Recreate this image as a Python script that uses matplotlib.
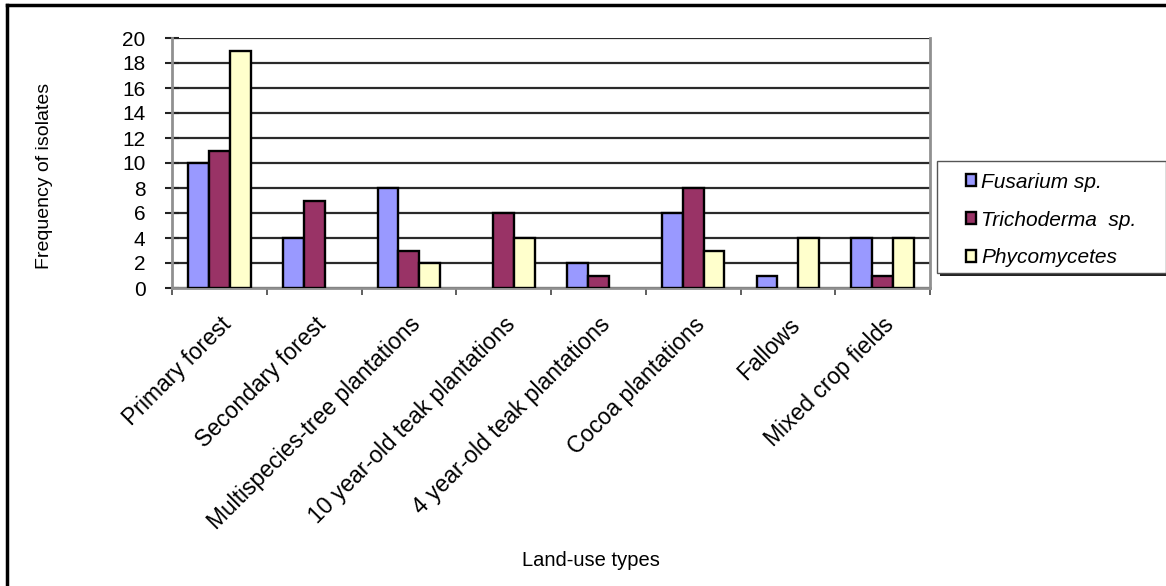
import numpy as np
import matplotlib
matplotlib.use('Agg')
import matplotlib.pyplot as plt
import matplotlib.transforms as mtransforms
from matplotlib.patches import Rectangle

plt.rcParams['font.family'] = ['Liberation Sans', 'DejaVu Sans']

land_use = ['Primary forest', 'Secondary forest', 'Multispecies-tree plantations',
            '10 year-old teak plantations', '4 year-old teak plantations',
            'Cocoa plantations', 'Fallows', 'Mixed crop fields']
fusarium = [10, 4, 8, 0, 2, 6, 1, 4]
trichoderma = [11, 7, 3, 6, 1, 8, 0, 1]
phycomycetes = [19, 0, 2, 4, 0, 3, 4, 4]
series_names = ['Fusarium sp.', 'Trichoderma  sp.', 'Phycomycetes']
colors = ['#9999FF', '#993366', '#FFFFCC']
yticks = list(range(0, 21, 2))

W, H = 1166, 586
fig = plt.figure(figsize=(W / 100, H / 100), dpi=100)
ax = fig.add_axes([172 / W, 1 - 288 / H, (930 - 172) / W, (288 - 38) / H])

x = np.arange(len(land_use))
bw = 0.22
bars = []
for k, (vals, c) in enumerate(zip([fusarium, trichoderma, phycomycetes], colors)):
    b = ax.bar(x + (k - 1) * bw, vals, bw, color=c, edgecolor='black',
               linewidth=1.7, zorder=3)
    # no outline for empty bars
    for rect, v in zip(b, vals):
        if v == 0:
            rect.set_edgecolor('none')
    bars.append(b)

ax.set_xlim(-0.5, len(land_use) - 0.5)
ax.set_ylim(0, 20)
ax.set_yticks(yticks)
ax.yaxis.grid(True, color='#2a2a2a', linewidth=1.6, zorder=1)
ax.set_axisbelow(True)

ax.set_xticks(x)
ax.set_xticklabels(land_use, rotation=45, ha='right', va='top',
                   rotation_mode='anchor', fontsize=16.5)
shift = mtransforms.ScaledTranslation(6 / 100, 0, fig.dpi_scale_trans)
for lab in ax.get_xticklabels():
    lab.set_transform(lab.get_transform() + shift)
ax.set_xticks(np.arange(-0.5, len(land_use)), minor=True)
ax.tick_params(axis='x', which='major', length=0, pad=18)
ax.tick_params(axis='x', which='minor', length=5, width=1.2, color='#444444')
ax.tick_params(axis='y', direction='inout', length=10, width=1.5,
               color='#222222', labelsize=15, pad=14)

for s in ['left', 'bottom', 'right']:
    ax.spines[s].set_color('#909090')
    ax.spines[s].set_linewidth(2)
ax.spines['top'].set_visible(False)

fig.text(591 / W, 1 - 560 / H, 'Land-use types', ha='center', va='center', fontsize=14.5)
fig.text(45 / W, 1 - 176 / H, 'Frequency of isolates', ha='center', va='center',
         rotation=90, fontsize=14)

# legend box with black shadow
lx0, ly0, lx1, ly1 = 937, 161, 1166, 273
fig.patches.append(Rectangle(((lx0 + 3) / W, 1 - (ly1 + 3) / H), (lx1 - lx0) / W,
                             (ly1 - ly0) / H, transform=fig.transFigure,
                             facecolor='#222222', edgecolor='none', zorder=1))
fig.patches.append(Rectangle((lx0 / W, 1 - ly1 / H), (lx1 - lx0) / W,
                             (ly1 - ly0) / H, transform=fig.transFigure,
                             facecolor='white', edgecolor='#555555', linewidth=1, zorder=2))
leg = fig.legend(bars, series_names, loc='upper left',
                 bbox_to_anchor=(947 / W, 1 - 154 / H), frameon=False,
                 prop={'style': 'italic', 'size': 15}, handlelength=0.5,
                 handleheight=0.5, handletextpad=0.25, labelspacing=0.9)
leg.set_zorder(3)

# outer chart border (cropped on right and bottom)
fig.add_artist(plt.Line2D([7 / W, 7 / W], [0, 1 - 5 / H], color='black', linewidth=2.5,
                          transform=fig.transFigure))
fig.add_artist(plt.Line2D([7 / W, 1], [1 - 5 / H, 1 - 5 / H], color='black', linewidth=2.5,
                          transform=fig.transFigure))

plt.savefig('out.png', dpi=100)
